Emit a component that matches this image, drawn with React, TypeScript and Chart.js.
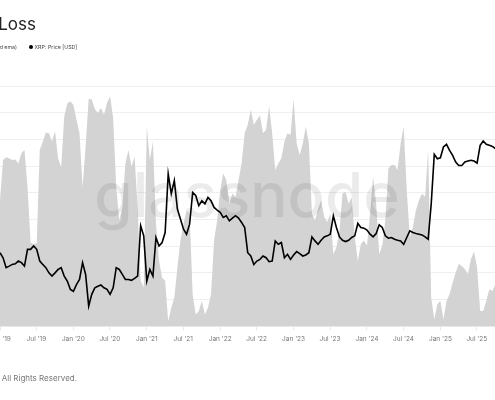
import React, { useEffect, useRef } from 'react';
import { Chart, registerables } from 'chart.js';

Chart.register(...registerables);

// Half-month sampling starting Jan 1 2019
const START_YEAR = 2019;
const STEP_YEARS = 1 / 24;

const PRICE_USD = [
  0.399, 0.363, 0.301, 0.310, 0.320, 0.324, 0.341, 0.331, 0.310, 0.425,
  0.425, 0.453, 0.425, 0.341, 0.320, 0.301, 0.273, 0.257, 0.273, 0.291,
  0.301, 0.257, 0.234, 0.200, 0.193, 0.219, 0.241, 0.331, 0.265, 0.146,
  0.182, 0.206, 0.212, 0.217, 0.206, 0.200, 0.182, 0.206, 0.301, 0.291,
  0.265, 0.241, 0.241, 0.237, 0.246, 0.257, 0.662, 0.548, 0.234, 0.291,
  0.257, 0.531, 0.453, 0.483, 0.583, 1.76, 1.21, 1.55, 0.907, 0.751,
  0.621, 0.565, 0.683, 1.24, 1.17, 0.967, 1.06, 1.00, 1.13, 1.06,
  0.936, 0.890, 0.852, 0.775, 0.800, 0.727, 0.765, 0.800, 0.765, 0.705,
  0.641, 0.399, 0.375, 0.320, 0.341, 0.352, 0.375, 0.363, 0.337, 0.341,
  0.498, 0.468, 0.483, 0.363, 0.387, 0.352, 0.382, 0.407, 0.392, 0.375,
  0.382, 0.399, 0.537, 0.498, 0.468, 0.504, 0.537, 0.548, 0.565, 0.800,
  0.641, 0.537, 0.504, 0.492, 0.504, 0.531, 0.548, 0.692, 0.641, 0.633,
  0.610, 0.565, 0.537, 0.572, 0.674, 0.641, 0.548, 0.524, 0.531, 0.514,
  0.504, 0.498, 0.468, 0.531, 0.602, 0.583, 0.572, 0.565, 0.558, 0.537,
  0.514, 1.00, 2.54, 2.34, 2.38, 2.92, 3.07, 2.74, 2.49, 2.20,
  2.06, 2.06, 2.20, 2.24, 2.27, 2.24, 2.15, 3.01, 3.27, 3.07,
  3.01, 2.95, 2.83,
];

const SUPPLY_IN_LOSS_PCT = [
  47.2, 62.3, 63.3, 62.9, 62.3, 62.5, 61.0, 64.8, 66.0, 52.2,
  31.4, 30.8, 31.1, 66.0, 69.2, 72.6, 72.3, 69.2, 73.0, 62.9,
  59.5, 78.6, 83.4, 84.3, 83.0, 77.4, 72.3, 52.2, 67.3, 85.2,
  84.9, 81.4, 79.9, 81.8, 79.2, 83.6, 86.2, 78.0, 52.2, 39.6,
  44.6, 61.0, 66.0, 59.8, 63.5, 44.6, 17.0, 14.5, 74.8, 62.3,
  69.2, 38.4, 24.5, 18.2, 17.0, 1.9, 6.9, 10.7, 22.0, 32.1,
  38.4, 43.4, 42.1, 12.0, 4.4, 5.7, 9.4, 4.4, 6.9, 12.0,
  32.1, 39.6, 50.9, 57.2, 54.7, 45.9, 49.7, 48.4, 54.7, 61.0,
  72.3, 75.5, 81.1, 75.5, 77.4, 78.9, 72.3, 73.6, 82.4, 72.3,
  58.5, 61.0, 62.9, 69.2, 72.3, 71.7, 85.2, 68.5, 64.1, 68.5,
  74.8, 68.5, 42.1, 39.6, 44.0, 47.2, 40.9, 39.0, 42.1, 27.0,
  29.6, 35.8, 49.7, 50.3, 45.9, 48.4, 33.3, 24.5, 30.8, 32.1,
  30.2, 42.1, 56.0, 45.9, 27.0, 30.2, 39.6, 59.1, 60.4, 60.4,
  58.5, 68.5, 74.8, 50.9, 33.3, 37.1, 43.4, 47.2, 49.7, 48.4,
  66.0, 10.7, 2.5, 8.2, 9.4, 2.5, 9.4, 12.0, 16.3, 20.1,
  23.3, 22.6, 21.4, 19.5, 25.2, 28.0, 22.0, 5.7, 5.7, 9.4,
  13.8, 13.2, 15.7,
];

const TICK_VALUES = [
  2019, 2019.496, 2020, 2020.497, 2021, 2021.496, 2022, 2022.496,
  2023, 2023.496, 2024, 2024.497, 2025, 2025.496,
];
const TICK_LABELS = [
  "Jan '19", "Jul '19", "Jan '20", "Jul '20", "Jan '21", "Jul '21", "Jan '22", "Jul '22",
  "Jan '23", "Jul '23", "Jan '24", "Jul '24", "Jan '25", "Jul '25",
];

const TITLE = 'XRP: Percent Supply in Loss';
const LEGEND_AREA = 'XRP: Percent Supply in Loss (7d ema)';
const LEGEND_PRICE = 'XRP: Price [USD]';
const FOOTER = '© 2025 Glassnode. All Rights Reserved.';
const WATERMARK = 'glassnode';

const X_MIN = 2019;
const X_MAX = 2025.744;
const HIDDEN_LEFT = 60;
const W = 495 + HIDDEN_LEFT;
const H = 400;
const AREA_COLOR = '#d3d3d3';
const FONT = 'Inter, "Noto Sans", sans-serif';

export default function App() {
  const ref = useRef<HTMLCanvasElement | null>(null);

  useEffect(() => {
    if (!ref.current) return;
    const areaData = SUPPLY_IN_LOSS_PCT.map((v, i) => ({ x: START_YEAR + i * STEP_YEARS, y: v }));
    const priceData = PRICE_USD.map((v, i) => ({ x: START_YEAR + i * STEP_YEARS, y: v }));

    const decor = {
      id: 'decor',
      afterDatasetDraw(chart: any, args: any) {
        if (args.index !== 1) return;
        const { ctx, chartArea } = chart;
        ctx.save();
        ctx.font = `500 62px ${FONT}`;
        ctx.fillStyle = 'rgba(0,0,0,0.08)';
        ctx.textAlign = 'center';
        ctx.textBaseline = 'alphabetic';
        ctx.fillText(WATERMARK, chartArea.left + 247, 217);
        ctx.restore();
      },
      afterDraw(chart: any) {
        const { ctx } = chart;
        const ox = HIDDEN_LEFT;
        ctx.save();
        ctx.textBaseline = 'alphabetic';
        ctx.fillStyle = '#222';
        ctx.font = `17px ${FONT}`;
        ctx.textAlign = 'right';
        ctx.fillText(TITLE, ox + 36, 30);

        ctx.font = `5.3px ${FONT}`;
        ctx.fillStyle = '#444';
        ctx.textBaseline = 'middle';
        ctx.textAlign = 'right';
        ctx.fillText(LEGEND_AREA, ox + 17, 47);
        const w1 = ctx.measureText(LEGEND_AREA).width;
        ctx.beginPath();
        ctx.fillStyle = AREA_COLOR;
        ctx.arc(ox + 17 - w1 - 4, 47, 2, 0, Math.PI * 2);
        ctx.fill();
        ctx.beginPath();
        ctx.fillStyle = '#000';
        ctx.arc(ox + 31, 47, 2, 0, Math.PI * 2);
        ctx.fill();
        ctx.fillStyle = '#444';
        ctx.textAlign = 'left';
        ctx.fillText(LEGEND_PRICE, ox + 34.5, 47);

        ctx.font = `8px ${FONT}`;
        ctx.fillStyle = '#777';
        ctx.textAlign = 'right';
        ctx.textBaseline = 'middle';
        ctx.fillText(FOOTER, ox + 77, 379);
        ctx.restore();
      },
    };

    const chart = new Chart(ref.current, {
      type: 'line',
      data: {
        datasets: [
          {
            label: LEGEND_PRICE,
            data: priceData,
            yAxisID: 'y2',
            borderColor: '#000',
            borderWidth: 1.6,
            pointRadius: 0,
            tension: 0,
            fill: false,
            order: 0,
          },
          {
            label: LEGEND_AREA,
            data: areaData,
            yAxisID: 'y',
            borderWidth: 0,
            borderColor: AREA_COLOR,
            backgroundColor: AREA_COLOR,
            pointRadius: 0,
            tension: 0,
            fill: 'origin',
            order: 1,
          },
        ],
      },
      options: {
        responsive: false,
        animation: false,
        layout: { padding: { left: HIDDEN_LEFT, right: 0, top: 86, bottom: 52 } },
        plugins: {
          legend: { display: false },
          tooltip: { enabled: false },
          title: { display: false },
        },
        scales: {
          x: {
            type: 'linear',
            min: X_MIN,
            max: X_MAX,
            afterBuildTicks: (scale: any) => {
              scale.ticks = TICK_VALUES.map((v) => ({ value: v }));
            },
            ticks: {
              autoSkip: false,
              maxRotation: 0,
              padding: 5,
              color: '#777',
              font: { family: FONT, size: 6.5 },
              callback: (value: any) => {
                const idx = TICK_VALUES.findIndex((t) => Math.abs(t - Number(value)) < 0.01);
                return idx >= 0 ? TICK_LABELS[idx] : '';
              },
            },
            grid: { drawOnChartArea: false, tickLength: 4, color: '#e8e8e8' },
            border: { color: '#e8e8e8' },
          },
          y: {
            position: 'left',
            min: 0,
            max: 90,
            ticks: { display: false, stepSize: 10 },
            grid: { color: '#efefef', drawTicks: false },
            border: { display: false },
          },
          y2: {
            type: 'logarithmic',
            position: 'right',
            min: 0.1,
            max: 9.2,
            display: false,
          },
        },
      },
      plugins: [decor],
    } as any);

    return () => chart.destroy();
  }, []);

  return (
    <div style={{ position: 'fixed', left: -HIDDEN_LEFT, top: 0, width: W, height: H, background: '#fff' }}>
      <canvas ref={ref} width={W} height={H} style={{ display: 'block', width: W, height: H }} />
    </div>
  );
}
